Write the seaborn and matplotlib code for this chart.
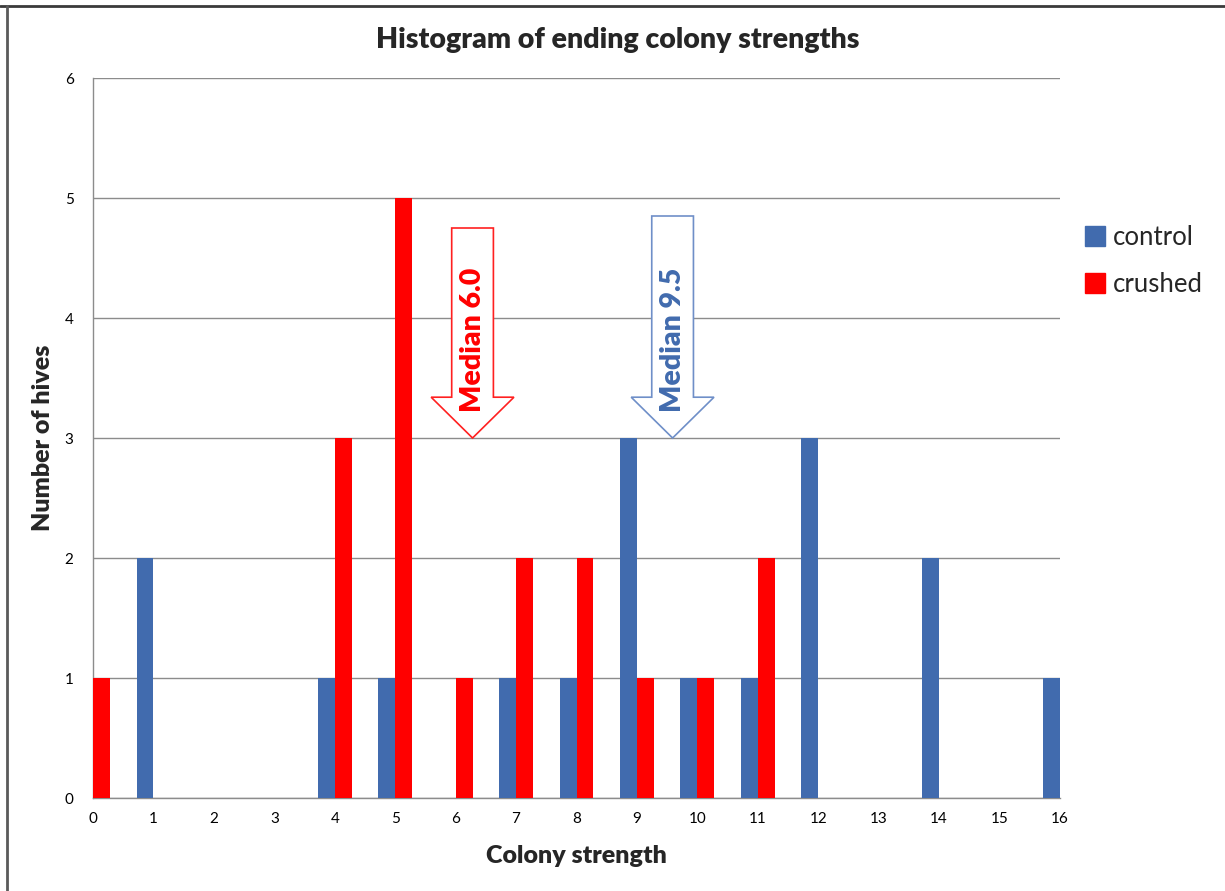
import matplotlib
matplotlib.use("Agg")
import matplotlib.pyplot as plt
from matplotlib.patches import FancyArrow
from matplotlib.lines import Line2D
import seaborn as sns
import pandas as pd

# ---- data ----
control_x = [1, 4, 5, 7, 8, 9, 10, 11, 12, 14, 16]
control_n = [2, 1, 1, 1, 1, 3, 1, 1, 3, 2, 1]
crushed_x = [0, 4, 5, 6, 7, 8, 9, 10, 11]
crushed_n = [1, 3, 5, 1, 2, 2, 1, 1, 2]
series_names = ["control", "crushed"]
series_colors = ["#416BAE", "#FF0000"]
median_labels = ["Median 6.0", "Median 9.5"]
median_arrow_x = [6.28, 9.59]
median_arrow_top = [4.75, 4.85]
median_arrow_tip = [3.0, 3.0]
median_text_colors = ["#FF0000", "#416BAE"]
median_edge_colors = ["#FF2020", "#6F8FC8"]
x_ticks = list(range(0, 17))
y_ticks = list(range(0, 7))

df = pd.DataFrame({
    "strength": control_x + crushed_x,
    "hives": control_n + crushed_n,
    "group": ["control"] * len(control_x) + ["crushed"] * len(crushed_x),
})

sns.set_theme(style="white")
plt.rcParams["font.family"] = ["Lato", "DejaVu Sans"]

fig = plt.figure(figsize=(12.25, 8.91), dpi=100)
ax = fig.add_axes([93 / 1225, 1 - 798 / 891, (1060 - 93) / 1225, (798 - 78) / 891])

sns.barplot(data=df, x="strength", y="hives", hue="group", hue_order=series_names,
            palette=series_colors, native_scale=True, width=0.56, dodge=True,
            errorbar=None, saturation=1, linewidth=0, ax=ax, legend=False, zorder=3)

ax.set_xlim(0, 16)
ax.set_ylim(0, 6)
ax.set_xticks(x_ticks)
ax.set_yticks(y_ticks)
ax.set_xticklabels([str(t) for t in x_ticks])
ax.set_yticklabels([str(t) for t in y_ticks])
ax.yaxis.grid(True, color="#8C8C8C", linewidth=1.0, zorder=0)
ax.xaxis.grid(False)
ax.set_axisbelow(True)
for s in ["top", "right"]:
    ax.spines[s].set_visible(False)
for s in ["left", "bottom"]:
    ax.spines[s].set_color("#8C8C8C")
    ax.spines[s].set_linewidth(1.0)
ax.tick_params(axis="both", which="major", length=6, width=1, color="#8C8C8C",
               labelsize=11, labelcolor="#000000", direction="out")
ax.tick_params(axis="x", pad=4)
ax.tick_params(axis="y", pad=8)
ax.set_xlabel("Colony strength", fontsize=18, fontweight="heavy", labelpad=14)
ax.set_ylabel("Number of hives", fontsize=18, fontweight="heavy", labelpad=8)

# median arrows
head_len = 0.34
for lab, xa, yt, ytip, tc, ec in zip(median_labels, median_arrow_x, median_arrow_top,
                                     median_arrow_tip, median_text_colors, median_edge_colors):
    arr = FancyArrow(xa, yt, 0, ytip - yt, width=0.69, head_width=1.37, head_length=head_len,
                     length_includes_head=True, facecolor="white", edgecolor=ec,
                     linewidth=1.2, zorder=5)
    ax.add_patch(arr)
    ax.text(xa, ytip + head_len + 0.48, lab, rotation=90, ha="center",
            va="center", color=tc, fontsize=20.5, fontweight="heavy", zorder=6)

# legend
handles = [Line2D([0], [0], marker="s", linestyle="none", markersize=14,
                  markerfacecolor=c, markeredgecolor=c) for c in series_colors]
fig.legend(handles, series_names, loc="center left", bbox_to_anchor=(1074 / 1225, 1 - 261 / 891),
           frameon=False, fontsize=18.5, handlelength=0.8, handletextpad=0.3,
           labelspacing=0.85, borderaxespad=0)

fig.text(618 / 1225, 1 - 40 / 891, "Histogram of ending colony strengths",
         ha="center", va="center", fontsize=20.5, fontweight="heavy")

# figure frame lines (top and left)
fig.add_artist(Line2D([0, 1], [1 - 6 / 891, 1 - 6 / 891], transform=fig.transFigure,
                      color="#3A3A3A", linewidth=2))
fig.add_artist(Line2D([7 / 1225, 7 / 1225], [0, 1 - 6 / 891], transform=fig.transFigure,
                      color="#5A5A5A", linewidth=2))

fig.savefig("out.png", dpi=100)
